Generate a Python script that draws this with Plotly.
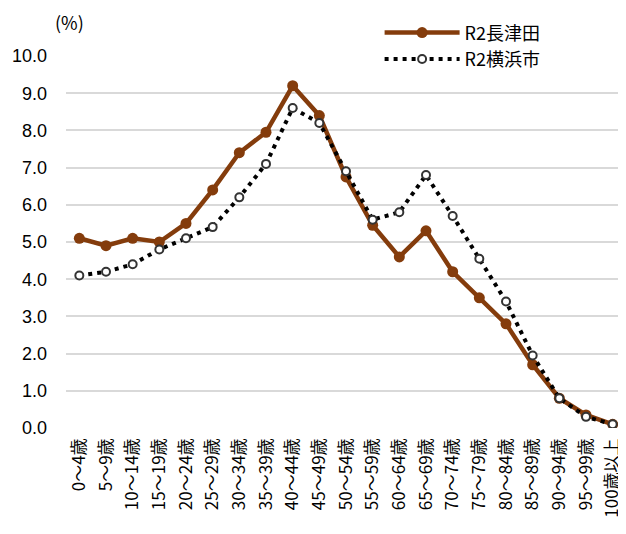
import plotly.graph_objects as go

categories = ["0～4歳", "5～9歳", "10～14歳", "15～19歳", "20～24歳", "25～29歳",
              "30～34歳", "35～39歳", "40～44歳", "45～49歳", "50～54歳", "55～59歳",
              "60～64歳", "65～69歳", "70～74歳", "75～79歳", "80～84歳", "85～89歳",
              "90～94歳", "95～99歳", "100歳以上"]
nagatsuta = [5.1, 4.9, 5.1, 5.0, 5.5, 6.4, 7.4, 7.95, 9.2, 8.4, 6.75, 5.45,
             4.6, 5.3, 4.2, 3.5, 2.8, 1.7, 0.8, 0.35, 0.1]
yokohama = [4.1, 4.2, 4.4, 4.8, 5.1, 5.4, 6.2, 7.1, 8.6, 8.2, 6.9, 5.6,
            5.8, 6.8, 5.7, 4.55, 3.4, 1.95, 0.8, 0.3, 0.1]
y_ticks = [0, 1, 2, 3, 4, 5, 6, 7, 8, 9, 10]
y_tick_labels = ["0.0", "1.0", "2.0", "3.0", "4.0", "5.0", "6.0", "7.0", "8.0", "9.0", "10.0"]

FONT = "Noto Sans CJK JP, Liberation Sans, sans-serif"

fig = go.Figure()
fig.add_trace(go.Scatter(
    x=categories, y=nagatsuta, name="R2長津田", mode="lines+markers",
    line=dict(color="#843C0C", width=4.5),
    marker=dict(color="#843C0C", size=11, line=dict(width=0)),
))
fig.add_trace(go.Scatter(
    x=categories, y=yokohama, name="R2横浜市", mode="lines+markers",
    line=dict(color="#000000", width=4, dash="4px,5px"),
    marker=dict(color="#ffffff", size=8, line=dict(color="#333333", width=2)),
))

fig.update_layout(
    width=618, height=526,
    margin=dict(l=58, r=0, t=48, b=106),
    paper_bgcolor="white", plot_bgcolor="white",
    font=dict(family=FONT, color="#000000", size=16),
    showlegend=True,
    legend=dict(x=0.56, y=1.112, xanchor="left", yanchor="top",
                bgcolor="rgba(0,0,0,0)", font=dict(size=18, family=FONT),
                itemwidth=75, tracegroupgap=0),
    xaxis=dict(type="category", range=[-0.5, 20.5], tickangle=-90,
               showgrid=False, showline=False, ticks="", automargin=False,
               ticklabelstandoff=6, tickfont=dict(size=17, family=FONT)),
    yaxis=dict(range=[0, 10], tickvals=y_ticks, ticktext=y_tick_labels,
               showgrid=True, gridcolor="#d9d9d9", gridwidth=1.5,
               zeroline=False, showline=False, ticks="", automargin=False,
               ticklabelstandoff=18, tickfont=dict(size=18, family="Liberation Sans, Arial, sans-serif")),
    annotations=[dict(text="(%)", xref="paper", yref="paper", x=0.006, y=1.0927,
                      xanchor="center", yanchor="middle", showarrow=False,
                      font=dict(size=18, family=FONT))],
)

fig.write_html("out.html")
